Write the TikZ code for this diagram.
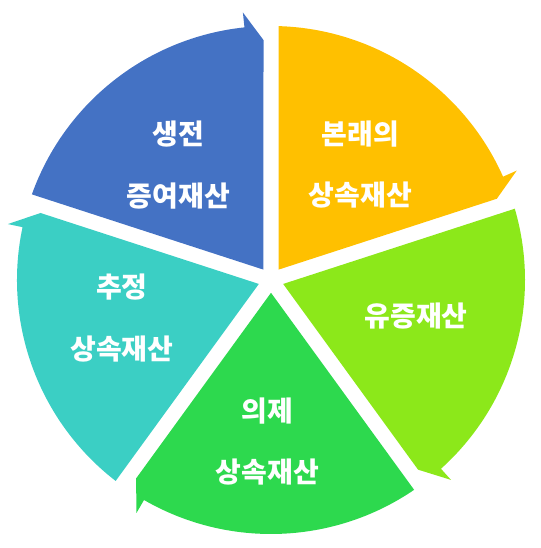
\documentclass[tikz,border=0pt]{standalone}
\usepackage{fontspec}
\usepackage{tikz}
\usepackage{xcolor}
\newfontfamily\kr{Noto Sans CJK KR}
\usetikzlibrary{positioning}

\definecolor{segblue}{HTML}{4472C4}
\definecolor{segyellow}{HTML}{FFC000}
\definecolor{seglime}{HTML}{8CE81A}
\definecolor{seggreen}{HTML}{2DD94E}
\definecolor{segcyan}{HTML}{3BCFC4}

\begin{document}
\begin{tikzpicture}[x=0.75pt, y=0.75pt,
    seglabel/.style={text=white, align=center, font=\kr\bfseries\fontsize{21}{46}\selectfont}]
  \useasboundingbox (-271,-268) rectangle (269,280);
  % five segments, each with its arrow barb at the clockwise end
  \foreach \rot/\col in {90/segblue, 18/segyellow, -54/seglime, -126/seggreen, 162/segcyan}
    \fill[\col, rotate=\rot] (36:12.8) -- (239.9,7.5) -- (6:269) -- (6:254)
      arc[start angle=6, end angle=70.3, radius=254] -- cycle;
  \node[seglabel] (saengjeon) at (-92.5,115) {생전\\증여재산};
  \node[seglabel] (bonrae) at (89.5,115.5) {본래의\\상속재산};
  \node[seglabel] (yujeung) at (145,-36) {유증재산};
  \node[seglabel] (uije) at (-3.5,-161.5) {의제\\상속재산};
  \node[seglabel] (chujeong) at (-149,-38) {추정\\상속재산};
\end{tikzpicture}
\end{document}
